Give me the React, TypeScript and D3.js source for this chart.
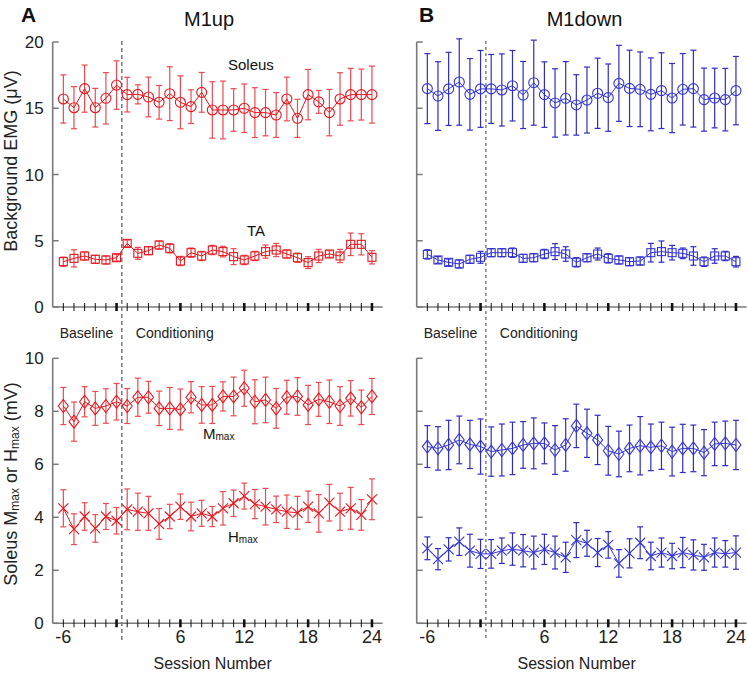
import React from "react";
import * as d3 from "d3";

// Session labels (baseline -6..-1, conditioning 1..24)
const sessions = [-6, -5, -4, -3, -2, -1, 1, 2, 3, 4, 5, 6, 7, 8, 9, 10, 11, 12, 13, 14, 15, 16, 17, 18, 19, 20, 21, 22, 23, 24];
const labeledSessions = [-6, 6, 12, 18, 24];
const majorTickSessions = [-1, 6, 12, 18, 24];
const topYTicks = [0, 5, 10, 15, 20];
const botYTicks = [0, 2, 4, 6, 8, 10];

// M1up (red)
const upSoleusMean = [15.7, 15.04, 16.48, 15.04, 15.75, 16.75, 16.03, 16.05, 15.85, 15.45, 16.1, 15.45, 15.12, 16.2, 14.87, 14.87, 14.87, 15.0, 14.67, 14.67, 14.49, 15.7, 14.24, 16.03, 15.48, 14.67, 15.7, 16.03, 16.03, 16.03];
const upSoleusErr = [1.82, 1.59, 1.78, 1.46, 1.94, 1.83, 1.31, 0.72, 1.5, 1.27, 2.03, 2.0, 1.27, 1.5, 2.13, 2.18, 1.61, 1.83, 1.88, 1.75, 1.69, 1.65, 1.44, 1.9, 0.86, 1.75, 1.98, 1.98, 1.92, 2.15];
const upTAMean = [3.42, 3.67, 3.85, 3.6, 3.55, 3.72, 4.8, 4.05, 4.25, 4.68, 4.43, 3.47, 4.1, 3.85, 4.3, 4.18, 3.8, 3.55, 3.85, 4.18, 4.3, 4.0, 3.72, 3.35, 3.85, 4.0, 3.85, 4.73, 4.73, 3.75];
const upTAErr = [0.35, 0.65, 0.3, 0.3, 0.3, 0.25, 0.25, 0.45, 0.3, 0.3, 0.35, 0.35, 0.35, 0.35, 0.35, 0.4, 0.6, 0.35, 0.35, 0.5, 0.5, 0.3, 0.35, 0.45, 0.5, 0.25, 0.5, 0.85, 0.8, 0.5];
const upMmaxMean = [8.2, 7.61, 8.36, 8.11, 8.2, 8.36, 8.2, 8.53, 8.53, 8.11, 8.11, 8.07, 8.53, 8.24, 8.24, 8.56, 8.56, 8.87, 8.36, 8.43, 8.11, 8.53, 8.56, 8.24, 8.45, 8.36, 8.2, 8.49, 8.15, 8.56];
const upMmaxErr = [0.7, 0.74, 0.57, 0.64, 0.65, 0.69, 0.66, 0.72, 0.6, 0.65, 0.79, 0.77, 0.59, 0.69, 0.7, 0.55, 0.73, 0.68, 0.83, 0.86, 0.75, 0.64, 0.71, 0.74, 0.64, 0.82, 0.73, 0.67, 0.65, 0.68];
const upHmaxMean = [4.34, 3.55, 4.03, 3.58, 4.03, 3.87, 4.3, 4.21, 4.15, 3.75, 4.03, 4.4, 4.03, 4.15, 4.03, 4.34, 4.53, 4.8, 4.5, 4.4, 4.3, 4.21, 4.17, 4.4, 4.15, 4.55, 4.21, 4.34, 4.09, 4.68];
const upHmaxErr = [0.7, 0.58, 0.52, 0.52, 0.49, 0.5, 0.77, 0.7, 0.64, 0.58, 0.46, 0.48, 0.54, 0.49, 0.38, 0.63, 0.5, 0.49, 0.55, 0.69, 0.5, 0.63, 0.62, 0.59, 0.71, 0.69, 0.7, 0.79, 0.58, 0.77];

// M1down (blue)
const downSoleusMean = [16.48, 15.92, 16.46, 16.98, 16.05, 16.46, 16.46, 16.38, 16.7, 16.0, 16.93, 16.03, 15.4, 15.75, 15.25, 15.62, 16.13, 15.8, 16.88, 16.5, 16.43, 16.05, 16.33, 15.77, 16.43, 16.48, 15.65, 15.77, 15.65, 16.33];
const downSoleusErr = [2.64, 2.59, 2.76, 3.26, 2.7, 2.9, 2.6, 2.72, 2.66, 2.53, 3.21, 2.47, 2.58, 2.77, 2.28, 2.49, 2.65, 2.54, 2.87, 2.88, 2.82, 2.75, 2.86, 2.61, 2.7, 2.9, 2.38, 2.25, 2.36, 2.58];
const downTAMean = [3.97, 3.55, 3.37, 3.25, 3.6, 3.75, 4.1, 4.1, 4.1, 3.67, 3.72, 4.0, 4.18, 4.0, 3.37, 3.72, 4.0, 3.67, 3.55, 3.42, 3.47, 4.1, 4.18, 4.1, 4.05, 3.85, 3.42, 3.85, 3.85, 3.42];
const downTAErr = [0.35, 0.25, 0.25, 0.3, 0.3, 0.45, 0.3, 0.3, 0.35, 0.3, 0.3, 0.35, 0.6, 0.55, 0.35, 0.3, 0.45, 0.35, 0.3, 0.3, 0.3, 0.7, 0.8, 0.55, 0.4, 0.7, 0.35, 0.55, 0.35, 0.4];
const downMmaxMean = [6.67, 6.6, 6.73, 6.92, 6.75, 6.67, 6.48, 6.54, 6.6, 6.73, 6.79, 6.79, 6.54, 6.73, 7.45, 7.17, 6.92, 6.51, 6.39, 6.6, 6.7, 6.64, 6.7, 6.48, 6.6, 6.6, 6.44, 6.77, 6.79, 6.73];
const downMmaxErr = [0.79, 0.82, 0.93, 0.9, 0.91, 1.04, 0.93, 0.98, 0.99, 0.88, 0.96, 0.77, 0.92, 0.99, 0.82, 0.91, 0.93, 0.92, 0.86, 0.88, 1.1, 0.88, 0.89, 0.92, 0.91, 0.88, 0.87, 0.82, 0.84, 0.93];
const downHmaxMean = [2.83, 2.42, 2.79, 3.08, 2.74, 2.62, 2.62, 2.74, 2.8, 2.74, 2.67, 2.79, 2.67, 2.49, 3.14, 3.02, 2.67, 2.96, 2.26, 2.64, 3.04, 2.54, 2.67, 2.54, 2.67, 2.58, 2.49, 2.67, 2.62, 2.67];
const downHmaxErr = [0.43, 0.4, 0.44, 0.52, 0.62, 0.55, 0.54, 0.48, 0.61, 0.61, 0.62, 0.57, 0.62, 0.57, 0.66, 0.49, 0.53, 0.5, 0.52, 0.55, 0.6, 0.52, 0.55, 0.48, 0.57, 0.57, 0.49, 0.55, 0.5, 0.63];

const FONT = "'Liberation Sans', Arial, Helvetica, sans-serif";
const W = 747;
const H = 674;

type Marker = "circle" | "square" | "diamond" | "x";

function MarkerShape({ kind, color }: { kind: Marker; color: string }) {
  if (kind === "circle") return <circle r={5} fill="none" stroke={color} strokeWidth={1.1} />;
  if (kind === "square") return <rect x={-4} y={-4} width={8} height={8} fill="none" stroke={color} strokeWidth={1.1} />;
  if (kind === "diamond") return <path d="M0,-6.5L5,0L0,6.5L-5,0Z" fill="none" stroke={color} strokeWidth={1.1} />;
  return <path d="M-5,-5L5,5M-5,5L5,-5" fill="none" stroke={color} strokeWidth={1.1} />;
}

function Series({ x, y, mean, err, color, barColor, kind }: any) {
  const line = d3.line<number>().x((_, i) => x(i)).y((v) => y(v));
  return (
    <g>
      {mean.map((m: number, i: number) => {
        const xi = x(i);
        const yt = y(m + err[i]);
        const yb = y(m - err[i]);
        return (
          <g key={"e" + i} stroke={barColor} strokeWidth={1.2}>
            <line x1={xi} x2={xi} y1={yt} y2={yb} />
            <line x1={xi - 3} x2={xi + 3} y1={yt} y2={yt} />
            <line x1={xi - 3} x2={xi + 3} y1={yb} y2={yb} />
          </g>
        );
      })}
      <path d={line(mean) || ""} fill="none" stroke={color} strokeWidth={1} />
      {mean.map((m: number, i: number) => (
        <g key={"m" + i} transform={`translate(${x(i)},${y(m)})`}>
          <MarkerShape kind={kind} color={color} />
        </g>
      ))}
    </g>
  );
}

function Panel({ x0, x1, color, barColor, soleus, ta, mmax, hmax, showLabels, dashColor, dashWidth, dashArray }: any) {
  const x = d3.scaleLinear().domain([-1, sessions.length]).range([x0, x1]);
  const yTop = d3.scaleLinear().domain([0, 20]).range([307, 42]);
  const yBot = d3.scaleLinear().domain([0, 10]).range([623.3, 358.3]);
  const axisColor = "#7a7a7a";
  const idxOf = (s: number) => sessions.indexOf(s);
  const dashX = (x(idxOf(-1)) + x(idxOf(1))) / 2;

  const xAxis = (yPos: number, labels: boolean) => (
    <g>
      <line x1={x0} x2={x1} y1={yPos} y2={yPos} stroke={axisColor} strokeWidth={1.6} />
      {sessions.map((s, i) => {
        const major = majorTickSessions.includes(s);
        return (
          <line key={s} x1={x(i)} x2={x(i)} y1={yPos - 4} y2={yPos + 4} stroke="#111" strokeWidth={major ? 2.6 : 1} />
        );
      })}
      {labels &&
        labeledSessions.map((s) => (
          <text key={s} x={x(idxOf(s))} y={643} textAnchor="middle" fontSize={18} fontFamily={FONT} fill="#222">
            {s}
          </text>
        ))}
    </g>
  );

  const yAxis = (scale: any, ticks: number[]) => (
    <g>
      <line x1={x0} x2={x0} y1={scale(ticks[0])} y2={scale(ticks[ticks.length - 1])} stroke={axisColor} strokeWidth={1.6} />
      {ticks.map((t) => (
        <g key={t}>
          <line x1={x0} x2={x0 + 6} y1={scale(t)} y2={scale(t)} stroke={axisColor} strokeWidth={1.5} />
          {showLabels && (
            <text x={x0 - 9} y={scale(t)} dy="0.36em" textAnchor="end" fontSize={17} fontFamily={FONT} fill="#222">
              {t}
            </text>
          )}
        </g>
      ))}
    </g>
  );

  return (
    <g>
      <line x1={dashX} x2={dashX} y1={41} y2={641} stroke={dashColor} strokeWidth={dashWidth} strokeDasharray={dashArray} />
      {yAxis(yTop, topYTicks)}
      {yAxis(yBot, botYTicks)}
      {xAxis(307, false)}
      {xAxis(623.3, true)}
      <Series x={x} y={yTop} mean={soleus[0]} err={soleus[1]} color={color} barColor={barColor} kind="circle" />
      <Series x={x} y={yTop} mean={ta[0]} err={ta[1]} color={color} barColor={barColor} kind="square" />
      <Series x={x} y={yBot} mean={mmax[0]} err={mmax[1]} color={color} barColor={barColor} kind="diamond" />
      <Series x={x} y={yBot} mean={hmax[0]} err={hmax[1]} color={color} barColor={barColor} kind="x" />
      <text x={x0 + 7} y={338} fontSize={14} fontFamily={FONT} fill="#222">Baseline</text>
      <text x={dashX + 14} y={338} fontSize={14} fontFamily={FONT} fill="#222">Conditioning</text>
      <text x={(x0 + x1) / 2 - 5} y={669} textAnchor="middle" fontSize={16} fontFamily={FONT} fill="#222">
        Session Number
      </text>
    </g>
  );
}

export default function App() {
  return (
    <svg width={W} height={H} style={{ position: "absolute", left: 0, top: 0, background: "#fff" }}>
      <rect width={W} height={H} fill="#fff" />
      <Panel
        x0={52.7}
        x1={382.6}
        color="#e8161e"
        barColor="#ec4a50"
        soleus={[upSoleusMean, upSoleusErr]}
        ta={[upTAMean, upTAErr]}
        mmax={[upMmaxMean, upMmaxErr]}
        hmax={[upHmaxMean, upHmaxErr]}
        showLabels={true}
        dashColor="#333"
        dashWidth={1}
        dashArray="4,3"
      />
      <Panel
        x0={416.7}
        x1={746.6}
        color="#3535d6"
        barColor="#2e2ec4"
        soleus={[downSoleusMean, downSoleusErr]}
        ta={[downTAMean, downTAErr]}
        mmax={[downMmaxMean, downMmaxErr]}
        hmax={[downHmaxMean, downHmaxErr]}
        showLabels={false}
        dashColor="#888"
        dashWidth={1.6}
        dashArray="3,3"
      />
      {/* Panel titles */}
      <text x={21} y={22} fontSize={21} fontWeight="bold" fontFamily={FONT} fill="#111">A</text>
      <text x={209} y={26} textAnchor="middle" fontSize={20} fontFamily={FONT} fill="#111">M1up</text>
      <text x={419} y={22} fontSize={21} fontWeight="bold" fontFamily={FONT} fill="#111">B</text>
      <text x={584.5} y={26} textAnchor="middle" fontSize={20} fontFamily={FONT} fill="#111">M1down</text>

      {/* In-plot labels */}
      <text x={228} y={70} fontSize={15} fontFamily={FONT} fill="#111">Soleus</text>
      <text x={247} y={236} fontSize={15} fontFamily={FONT} fill="#111">TA</text>
      <text x={203} y={439} fontSize={15} fontFamily={FONT} fill="#111">
        M<tspan fontSize={10} dy={1}>max</tspan>
      </text>
      <text x={228} y={542} fontSize={15} fontFamily={FONT} fill="#111">
        H<tspan fontSize={10} dy={1}>max</tspan>
      </text>

      {/* Y axis titles */}
      <text transform="translate(17,161) rotate(-90)" textAnchor="middle" fontSize={18} fontFamily={FONT} fill="#222">
        Background EMG (μV)
      </text>
      <text transform="translate(17,484) rotate(-90)" textAnchor="middle" fontSize={18} fontFamily={FONT} fill="#222">
        Soleus M<tspan fontSize={12} dy={2}>max</tspan>
        <tspan dy={-2}> or H</tspan>
        <tspan fontSize={12} dy={2}>max</tspan>
        <tspan dy={-2}> (mV)</tspan>
      </text>
    </svg>
  );
}
